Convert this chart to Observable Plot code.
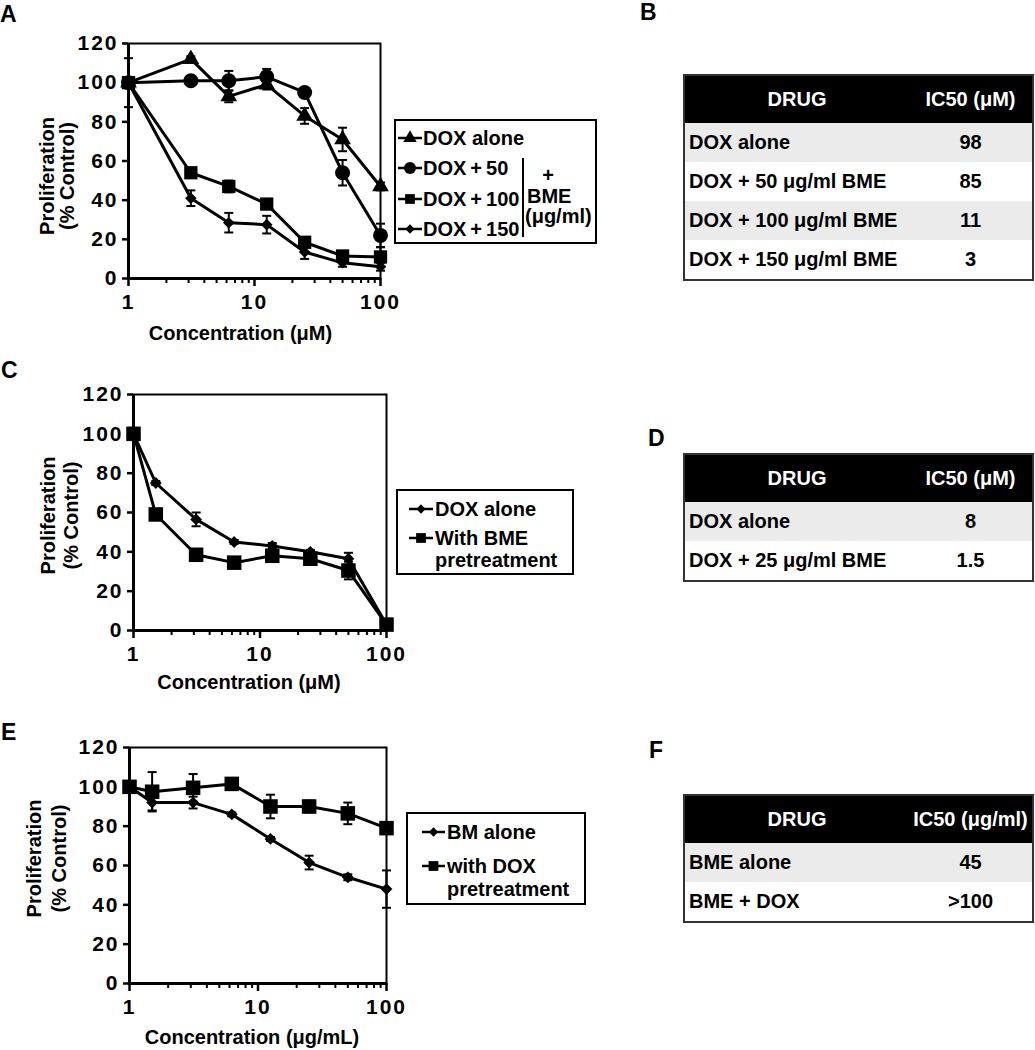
<!DOCTYPE html>
<html><head><meta charset="utf-8">
<script src="https://cdn.jsdelivr.net/npm/d3@7"></script>
<script src="https://cdn.jsdelivr.net/npm/@observablehq/plot@0.6"></script>
<style>
body{margin:0;background:#fff;}
#root{position:relative;width:1035px;height:1050px;font-family:"Liberation Sans",Arial,sans-serif;font-weight:bold;color:#000;background:#fff;overflow:hidden;}
.chart{position:absolute;left:0;}
#overlay{position:absolute;left:0;top:0;pointer-events:none;}
table.ic{position:absolute;left:683px;width:349px;border-collapse:collapse;table-layout:fixed;font:bold 20px "Liberation Sans",Arial,sans-serif;border:2px solid #333;}
table.ic th{background:#000;color:#fff;height:47px;padding:0;text-align:center;font-weight:bold;}
table.ic td{height:39px;padding:0 0 0 4px;white-space:nowrap;}
table.ic td.v{text-align:center;padding:0;}
table.ic tr.g td{background:#ebebeb;}
</style></head>
<body><div id="root"></div>
<script>
// ---------- data ----------
const concA = [1, 3.125, 6.25, 12.5, 25, 50, 100];
const doxAloneA = [100, 112, 93, 99, 83, 71, 47];
const doxAloneAErr = [12.5, 1.5, 3, 2.5, 4, 6, 2];
const dox50A = [100, 101, 101, 103, 95, 54, 22];
const dox50AErr = [0, 0, 5, 4, 1, 6.5, 6];
const dox100A = [100, 54, 47, 38, 18.5, 11.5, 11];
const dox100AErr = [0, 1, 3, 1, 2, 2, 5];
const dox150A = [100, 41, 28.5, 27.5, 13.5, 8, 6];
const dox150AErr = [0, 4, 5, 4.5, 3.5, 2, 2];

const concC = [1, 1.5, 3.125, 6.25, 12.5, 25, 50, 100];
const doxAloneC = [100, 75, 56.5, 45, 43, 40, 36.5, 3];
const doxAloneCErr = [3, 1, 3.5, 1, 1.5, 1, 3, 1];
const withBmeC = [100, 59, 38.5, 34.5, 38, 36.5, 30.5, 3];
const withBmeCErr = [3, 1, 1, 1, 2, 2, 4.5, 1];

const concE = [1, 1.5, 3.125, 6.25, 12.5, 25, 50, 100];
const bmAloneE = [100, 92, 92, 86, 73.5, 61.5, 54, 48];
const bmAloneEErr = [0, 4, 3, 1, 1, 3.5, 1.5, 9.5];
const withDoxE = [100, 97.5, 99.5, 101.5, 90, 90, 86.5, 79];
const withDoxEErr = [1, 10, 7, 3, 6, 3, 5.5, 2];

const xTicksMajor = [1, 10, 100];
const xTicksMinor = [2, 3, 4, 5, 6, 7, 8, 9, 20, 30, 40, 50, 60, 70, 80, 90];
const yTicks = [0, 20, 40, 60, 80, 100, 120];

const tableBDrug = ["DOX alone", "DOX + 50 μg/ml BME", "DOX + 100 μg/ml BME", "DOX + 150 μg/ml BME"];
const tableBValue = ["98", "85", "11", "3"];
const tableDDrug = ["DOX alone", "DOX + 25 μg/ml BME"];
const tableDValue = ["8", "1.5"];
const tableFDrug = ["BME alone", "BME + DOX"];
const tableFValue = ["45", ">100"];

// ---------- helpers ----------
const FONT = '"Liberation Sans", Arial, sans-serif';
const root = document.getElementById("root");

function errRows(x, y, e) {
  return x.map((xi, i) => ({x: xi, y: y[i], lo: y[i] - e[i], hi: y[i] + e[i], e: e[i]}));
}
const capSymbol = {draw(ctx) { ctx.moveTo(-4.5, 0); ctx.lineTo(4.5, 0); }};

function seriesMarks(data, symbol, r) {
  const we = data.filter(d => d.e > 0);
  return [
    Plot.ruleX(we, {x: "x", y1: "lo", y2: "hi", stroke: "black", strokeWidth: 2}),
    Plot.dot(we, {x: "x", y: "lo", symbol: capSymbol, r: 4, stroke: "black", strokeWidth: 2, fill: "none"}),
    Plot.dot(we, {x: "x", y: "hi", symbol: capSymbol, r: 4, stroke: "black", strokeWidth: 2, fill: "none"}),
    Plot.line(data, {x: "x", y: "y", stroke: "black", strokeWidth: 3}),
    Plot.dot(data, {x: "x", y: "y", symbol, r, fill: "black", stroke: "none"})
  ];
}

function makeChart(cfg) {
  const marks = [
    Plot.frame({stroke: "black", strokeWidth: 2}),
    Plot.ruleX([1], {stroke: "black", strokeWidth: 3}),
    Plot.ruleY([0], {stroke: "black", strokeWidth: 3}),
    Plot.axisY(yTicks, {tickSize: 6, tickPadding: 4, strokeWidth: 2.5, label: null, fontSize: 21, tickFormat: d => String(d)}),
    Plot.axisX(xTicksMinor, {tickSize: 5, strokeWidth: 2, label: null, tickFormat: () => ""}),
    Plot.axisX(xTicksMajor, {tickSize: 8, tickPadding: 8, strokeWidth: 2.5, label: null, fontSize: 21, tickFormat: d => String(d)}),
    Plot.text([cfg.xLabel], {text: d => d, frameAnchor: "bottom", textAnchor: "middle", dx: cfg.xdx, dy: cfg.xdy, lineAnchor: "middle", fontSize: 20}),
    Plot.text(["Proliferation\n(% Control)"], {text: d => d, frameAnchor: "left", textAnchor: "middle", rotate: -90, dx: cfg.ydx, dy: cfg.ydy, lineAnchor: "middle", lineHeight: cfg.lh, fontSize: 20}),
    ...cfg.series.flatMap(s => seriesMarks(s.data, s.symbol, s.r))
  ];
  const svg = Plot.plot({
    width: cfg.width, height: cfg.height,
    marginLeft: cfg.ml, marginRight: cfg.mr, marginTop: cfg.mt, marginBottom: cfg.mb,
    x: {type: "log", domain: [1, 100]},
    y: {domain: [0, 120]},
    style: {fontFamily: FONT, fontWeight: "bold", fontSize: "20px", color: "black", background: "transparent", overflow: "visible"},
    marks
  });
  d3.select(svg).selectAll('g[aria-label$="tick label"] text').attr("letter-spacing", "2px");
  const div = document.createElement("div");
  div.className = "chart";
  div.style.top = cfg.top + "px";
  div.style.width = cfg.width + "px";
  div.appendChild(svg);
  root.appendChild(div);
}

// ---------- charts ----------
makeChart({
  top: 0, width: 400, height: 345, ml: 128, mr: 20, mt: 43, mb: 67,
  xLabel: "Concentration (μM)", xdx: -14, xdy: 55, ydx: -71, ydy: 15, lh: 1.0,
  series: [
    {data: errRows(concA, doxAloneA, doxAloneAErr), symbol: "triangle", r: 6.2},
    {data: errRows(concA, dox50A, dox50AErr), symbol: "circle", r: 7.5},
    {data: errRows(concA, dox100A, dox100AErr), symbol: "square", r: 7.5},
    {data: errRows(concA, dox150A, dox150AErr), symbol: "diamond2", r: 5.2}
  ]
});
makeChart({
  top: 340, width: 400, height: 360, ml: 133, mr: 14, mt: 54, mb: 70,
  xLabel: "Concentration (μM)", xdx: -11, xdy: 52, ydx: -74.5, ydy: 3, lh: 1.15,
  series: [
    {data: errRows(concC, doxAloneC, doxAloneCErr), symbol: "diamond2", r: 5.3},
    {data: errRows(concC, withBmeC, withBmeCErr), symbol: "square", r: 8.2}
  ]
});
makeChart({
  top: 690, width: 400, height: 360, ml: 129, mr: 14, mt: 57, mb: 67,
  xLabel: "Concentration (μg/mL)", xdx: -6, xdy: 54, ydx: -84.5, ydy: -7, lh: 1.25,
  series: [
    {data: errRows(concE, bmAloneE, bmAloneEErr), symbol: "diamond2", r: 5.3},
    {data: errRows(concE, withDoxE, withDoxEErr), symbol: "square", r: 8.2}
  ]
});

// ---------- tables ----------
function makeTable(top, valueHeader, drugs, values) {
  const t = document.createElement("table");
  t.className = "ic";
  t.style.top = top + "px";
  t.innerHTML = '<colgroup><col style="width:225px"><col style="width:124px"></colgroup>' +
    '<tr><th>DRUG</th><th>' + valueHeader + '</th></tr>' +
    drugs.map((d, i) => '<tr class="' + (i % 2 === 0 ? "g" : "") + '"><td>' + d.replace(/>/g, "&gt;") + '</td><td class="v">' + values[i].replace(/>/g, "&gt;") + '</td></tr>').join("");
  root.appendChild(t);
}
makeTable(74, "IC50 (μM)", tableBDrug, tableBValue);
makeTable(453, "IC50 (μM)", tableDDrug, tableDValue);
makeTable(794, "IC50 (μg/ml)", tableFDrug, tableFValue);

// ---------- overlay: legends & panel letters ----------
const ov = d3.select(root).append("svg").attr("id", "overlay").attr("width", 1035).attr("height", 1050)
  .style("font-family", FONT).style("font-weight", "bold");

const panelLetters = [["A", 0, 22], ["B", 640, 20], ["C", 1, 378], ["D", 648, 446], ["E", 1, 740], ["F", 649, 758]];
ov.selectAll("text.pl").data(panelLetters).join("text").attr("class", "pl")
  .attr("x", d => d[1]).attr("y", d => d[2]).attr("font-size", 23).text(d => d[0]);

const symMap = {triangle: d3.symbolTriangle, circle: d3.symbolCircle, square: d3.symbolSquare, diamond2: d3.symbolDiamond2};
function legend(box, x0, x1, tx, items) {
  const g = ov.append("g");
  g.append("rect").attr("x", box[0]).attr("y", box[1]).attr("width", box[2] - box[0]).attr("height", box[3] - box[1])
    .attr("fill", "white").attr("stroke", "black").attr("stroke-width", 2);
  items.forEach(it => {
    if (it.symbol) {
      g.append("line").attr("x1", x0).attr("x2", x1).attr("y1", it.y).attr("y2", it.y).attr("stroke", "black").attr("stroke-width", 2.5);
      g.append("path").attr("transform", `translate(${(x0 + x1) / 2},${it.y})`)
        .attr("d", d3.symbol(symMap[it.symbol], Math.PI * it.r * it.r)()).attr("fill", "black");
    }
    g.append("text").attr("x", it.x ?? tx).attr("y", it.y).attr("dominant-baseline", "central")
      .attr("text-anchor", it.anchor || "start").attr("font-size", 20).text(it.label);
  });
  return g;
}
const legA = legend([395, 120, 596, 243], 398, 422, 423, [
  {symbol: "triangle", r: 5, y: 138, label: "DOX alone"},
  {symbol: "circle", r: 6, y: 168, label: "DOX\u2009+\u200950"},
  {symbol: "square", r: 5.5, y: 199, label: "DOX\u2009+\u2009100"},
  {symbol: "diamond2", r: 4.2, y: 229, label: "DOX\u2009+\u2009150"},
  {y: 175, label: "+", x: 548, anchor: "middle"},
  {y: 196, label: "BME", x: 527},
  {y: 216, label: "(μg/ml)", x: 525}
]);
legA.append("line").attr("x1", 523).attr("x2", 523).attr("y1", 158).attr("y2", 237).attr("stroke", "black").attr("stroke-width", 2);

legend([397, 490, 573, 574], 409, 433, 435, [
  {symbol: "diamond2", r: 4.2, y: 509, label: "DOX alone"},
  {symbol: "square", r: 5.5, y: 538, label: "With BME"},
  {y: 560, label: "pretreatment"}
]);
legend([407, 813, 585, 904], 422, 445, 447, [
  {symbol: "diamond2", r: 4.2, y: 832, label: "BM alone"},
  {symbol: "square", r: 5.5, y: 866, label: "with DOX"},
  {y: 889, label: "pretreatment"}
]);
</script>
</body></html>
